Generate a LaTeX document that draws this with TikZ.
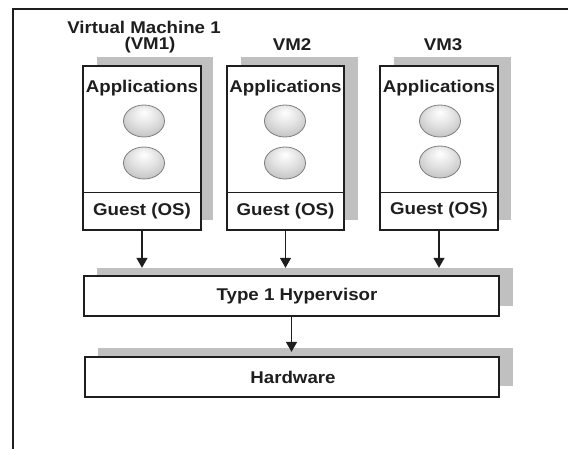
\documentclass[tikz,border=0pt]{standalone}
\usepackage{fontspec}
\newfontfamily\lblfont{Liberation Sans}[FakeStretch=1.1]
\usetikzlibrary{shapes.geometric,arrows.meta}
\definecolor{shadowgray}{RGB}{192,192,192}
\definecolor{inkgray}{RGB}{30,30,30}
\definecolor{ballrim}{RGB}{125,125,125}
\pgfdeclareradialshading{appball}{\pgfpoint{0bp}{14bp}}{%
  color(0bp)=(white);
  color(16bp)=(gray!22);
  color(34bp)=(gray!52);
  color(50bp)=(gray!72)}
\tikzset{
  lbl/.style={font=\lblfont\bfseries\fontsize{17}{18}\selectfont, text=inkgray, inner sep=0pt},
  panel/.style={draw=inkgray, line width=1.5pt, fill=white, inner sep=0pt},
  shadowbox/.style={fill=shadowgray, draw=none, inner sep=0pt},
  appball/.style={ellipse, draw=ballrim, line width=0.8pt, shading=appball,
    minimum width=41pt, minimum height=32pt, inner sep=0pt},
  flow/.style={draw=inkgray, line width=1.4pt, -{Triangle[width=11pt,length=10pt]}}
}
\begin{document}
\begin{tikzpicture}[x=1pt,y=-1pt]
\useasboundingbox (0,0) rectangle (568,448);
\fill[white] (0,0) rectangle (568,448);

% outer frame (open to the right and bottom)
\draw[inkgray, line width=1.6pt] (13,452) -- (13,9) -- (572,9);

% titles
\node[lbl] (vm1title) at (144,27) {Virtual Machine 1};
\node[lbl] (vm1sub)   at (150,45) {(VM1)};
\node[lbl] (vm2title) at (292,45) {VM2};
\node[lbl] (vm3title) at (443,45) {VM3};

% drop shadows
\node[shadowbox, minimum width=116pt, minimum height=163pt] (vm1sh) at (155,138.5) {};
\node[shadowbox, minimum width=117pt, minimum height=163pt] (vm2sh) at (299.5,138.5) {};
\node[shadowbox, minimum width=117pt, minimum height=163pt] (vm3sh) at (452.5,138.5) {};
\node[shadowbox, minimum width=416pt, minimum height=38pt] (hypsh) at (305,287) {};
\node[shadowbox, minimum width=415pt, minimum height=38pt] (hwsh) at (305.5,367) {};

% virtual machines
\node[panel, minimum width=118pt, minimum height=164pt] (vm1) at (142,148) {};
\node[panel, minimum width=117pt, minimum height=164pt] (vm2) at (285.5,148) {};
\node[panel, minimum width=118pt, minimum height=164pt] (vm3) at (439,148) {};
\foreach \v in {vm1,vm2,vm3}{
  \draw[inkgray, line width=1.4pt] ([yshift=38pt]\v.south west) -- ([yshift=38pt]\v.south east);
}

\node[lbl] (app1) at (142,88) {Applications};
\node[lbl] (app2) at (285.5,88) {Applications};
\node[lbl] (app3) at (439,88) {Applications};

\node[appball] (b1a) at (144,121) {};
\node[appball] (b1b) at (144,163) {};
\node[appball] (b2a) at (285,121) {};
\node[appball] (b2b) at (285,163) {};
\node[appball] (b3a) at (440,121) {};
\node[appball] (b3b) at (440,162) {};

\node[lbl] (os1) at (142,211) {Guest (OS)};
\node[lbl] (os2) at (285.5,211) {Guest (OS)};
\node[lbl] (os3) at (439,210) {Guest (OS)};

% hypervisor and hardware layers
\node[panel, minimum width=415pt, minimum height=40pt] (hyp) at (291.5,296) {};
\node[lbl] (hyptext) at (297,296) {Type 1 Hypervisor};
\node[panel, minimum width=414pt, minimum height=40pt] (hw) at (292,377) {};
\node[lbl] (hwtext) at (293,377) {Hardware};

% connectors
\draw[flow] (vm1.south) -- (vm1.south |- hypsh.north);
\draw[flow] (vm2.south) -- (vm2.south |- hypsh.north);
\draw[flow] (vm3.south) -- (vm3.south |- hypsh.north);
\draw[flow] (hyp.south) -- ([yshift=-4pt]hyp.south |- hwsh.north);
\end{tikzpicture}
\end{document}
